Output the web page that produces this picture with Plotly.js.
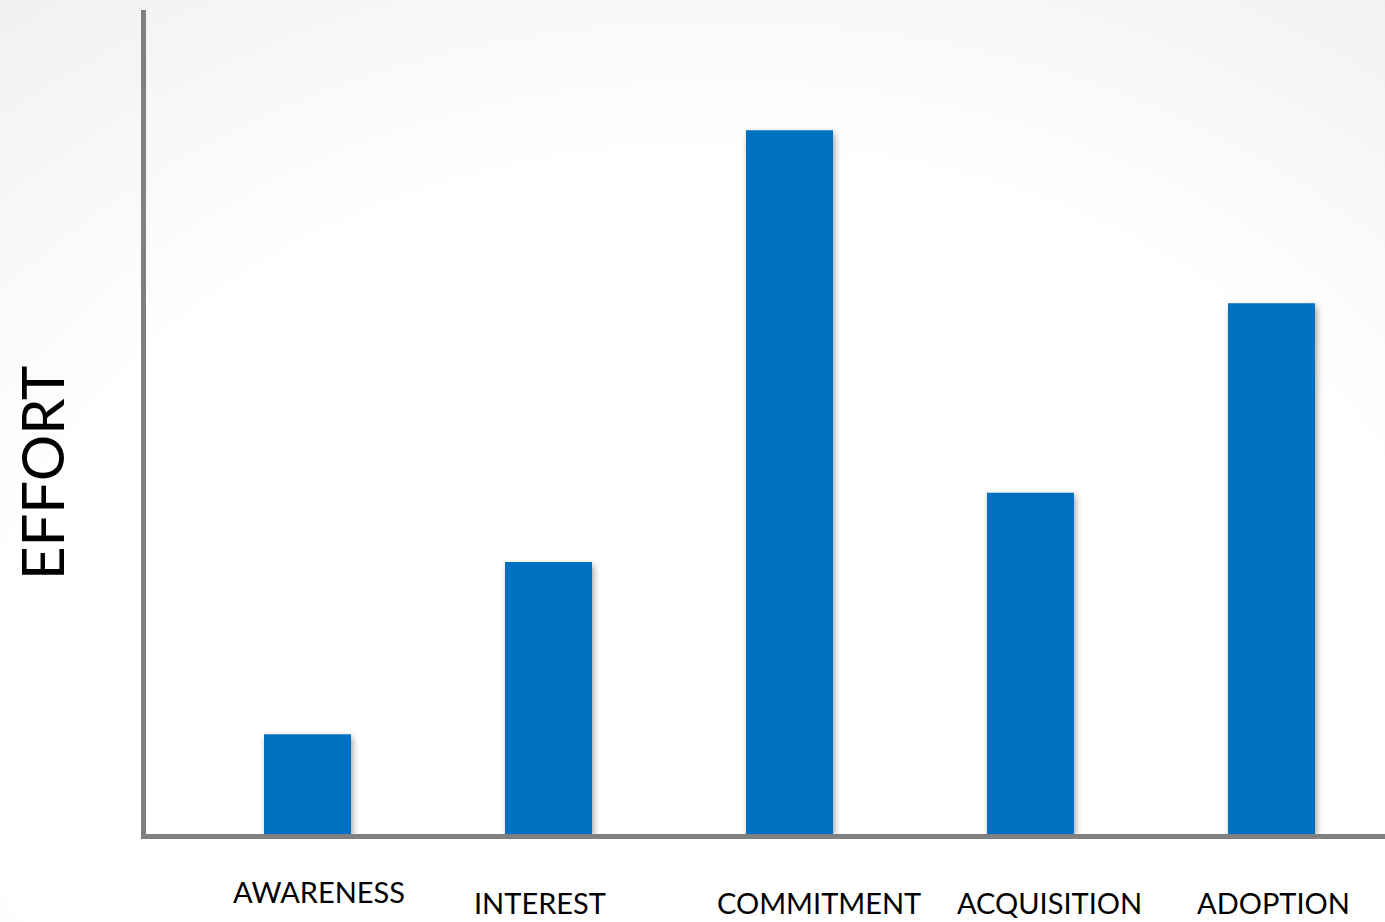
<!DOCTYPE html>
<html>
<head>
<meta charset="utf-8">
<script src="https://cdn.plot.ly/plotly-3.0.1.min.js"></script>
<style>
  html, body { margin:0; padding:0; width:1385px; height:922px; overflow:hidden;
    background: radial-gradient(ellipse 95% 110% at 52% 78%, #ffffff 55%, #ececec 100%); }
  #chart { width:1385px; height:922px; }
  #chart .bars path { filter: drop-shadow(2px 3px 3px rgba(0,0,0,0.35)); }
</style>
</head>
<body>
<div id="chart"></div>
<script>
// Data
const categories = ["AWARENESS", "INTEREST", "COMMITMENT", "ACQUISITION", "ADOPTION"];
const effort = [12.1, 33.0, 85.4, 41.4, 64.4];
const yTitle = "EFFORT";

// Label placement (layout only)
const labelXShift = [12, -8, 30, 19, 2];
const labelYShift = [-57, -68, -68, -68, -68];

const xIdx = categories.map((_, i) => i);

const trace = {
  type: 'bar',
  x: xIdx,
  y: effort,
  width: 0.361,
  marker: { color: '#0070C0', line: { width: 0 } },
  hoverinfo: 'none',
  text: categories,
  textposition: 'none'
};

const annotations = categories.map((c, i) => ({
  text: c, x: i, xref: 'x', y: 0, yref: 'paper',
  xanchor: 'center', yanchor: 'middle',
  xshift: labelXShift[i], yshift: labelYShift[i],
  showarrow: false,
  font: { family: 'Lato, "Liberation Sans", sans-serif', size: 29, color: '#000000' }
}));
annotations.push({
  text: yTitle, textangle: -90, xref: 'paper', x: 0, yref: 'paper', y: 0.5,
  xanchor: 'center', yanchor: 'middle', xshift: -105, yshift: -51,
  showarrow: false,
  font: { family: 'Lato, "Liberation Sans", sans-serif', size: 58, color: '#000000' }
});

const layout = {
  width: 1385, height: 922,
  margin: { l: 146, r: 0, t: 10, b: 88, pad: 0 },
  paper_bgcolor: 'rgba(0,0,0,0)',
  plot_bgcolor: 'rgba(0,0,0,0)',
  showlegend: false,
  xaxis: {
    range: [-0.6701, 4.471], showgrid: false, zeroline: false,
    showticklabels: false, ticks: '',
    showline: true, linecolor: '#808080', linewidth: 5, fixedrange: true
  },
  yaxis: {
    range: [0, 100], showgrid: false, zeroline: false,
    showticklabels: false, ticks: '',
    showline: true, linecolor: '#808080', linewidth: 5, fixedrange: true
  },
  annotations: annotations
};

Plotly.newPlot('chart', [trace], layout, { staticPlot: true, displayModeBar: false });
</script>
</body>
</html>
